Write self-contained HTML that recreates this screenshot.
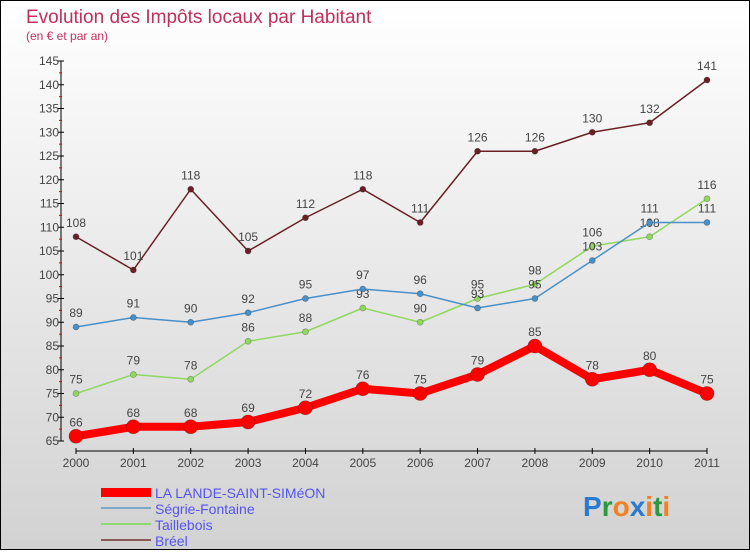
<!DOCTYPE html>
<html><head><meta charset="utf-8"><style>
body{margin:0}
#c{width:748px;height:548px;border:1px solid #000;background:linear-gradient(#fff,#d2d2d2);position:relative;font-family:"Liberation Sans",sans-serif}
text{font-family:"Liberation Sans",sans-serif}
</style></head><body>
<div id="c">
<svg id="s" width="748" height="548">
<text x="25" y="22" font-size="19" fill="#c0305a">Evolution des Impôts locaux par Habitant</text>
<text x="25" y="39" font-size="12" fill="#c0305a">(en € et par an)</text>
<g id="g"></g>
<g>
<rect x="100" y="487" width="50" height="9" fill="#f00"/>
<text x="154" y="497" font-size="14" fill="#5555ee">LA LANDE-SAINT-SIMéON</text>
<rect x="100" y="506" width="50" height="2" fill="#80a8c8"/>
<text x="154" y="513" font-size="14" fill="#5555ee">Ségrie-Fontaine</text>
<rect x="100" y="522" width="50" height="2" fill="#90d870"/>
<text x="154" y="529" font-size="14" fill="#5555ee">Taillebois</text>
<rect x="100" y="538" width="50" height="2" fill="#8a5a5a"/>
<text x="154" y="545" font-size="14" fill="#5555ee">Bréel</text>
</g>
<g font-size="28" font-weight="bold">
<text x="582" y="515"><tspan fill="#2a7ad0">P</tspan><tspan fill="#2a9a40">r</tspan><tspan fill="#f08020">o</tspan><tspan fill="#2a7ad0">x</tspan><tspan fill="#f08020">i</tspan><tspan fill="#2a9a40">t</tspan><tspan fill="#f08020">i</tspan></text>
</g>
</svg></div>
<script>
const years=["2000","2001","2002","2003","2004","2005","2006","2007","2008","2009","2010","2011"];
const yTicks=[65,70,75,80,85,90,95,100,105,110,115,120,125,130,135,140,145];
const lande=[66,68,68,69,72,76,75,79,85,78,80,75];
const segrie=[89,91,90,92,95,97,96,93,95,103,111,111];
const taillebois=[75,79,78,86,88,93,90,95,98,106,108,116];
const breel=[108,101,118,105,112,118,111,126,126,130,132,141];
const NS="http://www.w3.org/2000/svg",g=document.getElementById('g');
const X=i=>75+i*(631/11), Y=v=>440-(v-65)*4.75;
function mk(t,a,p){const e=document.createElementNS(NS,t);for(const k in a)e.setAttribute(k,a[k]);(p||g).appendChild(e);return e;}
let ax=mk('line',{x1:60,y1:Y(145),x2:60,y2:440,stroke:'#000'});


let xa=mk('line',{x1:75,y1:450,x2:706,y2:450,stroke:'#000'});


yTicks.forEach((v,i)=>{
 mk('line',{x1:57,x2:63,y1:Y(v),y2:Y(v),stroke:'#000'});
 if(i<yTicks.length-1)mk('line',{x1:58,x2:61,y1:Y(v+2.5),y2:Y(v+2.5),stroke:'#d00'});
 const t=mk('text',{x:58,y:Y(v)+4,'font-size':12,fill:'#444','text-anchor':'end'});t.textContent=v;
 
 
});
years.forEach((y,i)=>{
 mk('line',{x1:X(i),x2:X(i),y1:447,y2:453,stroke:'#000'});
 const t=mk('text',{x:X(i),y:466,'font-size':12,fill:'#444','text-anchor':'middle'});t.textContent=y;
 
 
});
function series(d,col,w,r,name){
 const p=mk('polyline',{points:d.map((v,i)=>X(i)+','+Y(v)).join(' '),fill:'none',stroke:col,'stroke-width':w,'stroke-linejoin':'round'});
 
 
 d.forEach((v,i)=>{
  const c=mk('circle',{cx:X(i),cy:Y(v),r:r,fill:col,stroke:'rgba(0,0,0,0.3)','stroke-width':0.7});
  
  
  const t=mk('text',{x:X(i),y:Y(v)-10,'font-size':12,fill:'#444','text-anchor':'middle'});t.textContent=v;
  
  
 });
}
series(breel,'#6b1f26',1.5,3,'breel');
series(taillebois,'#90d860',1.5,3,'taillebois');
series(segrie,'#4a90c8',1.5,3,'segrie');
series(lande,'#f00',8,7,'lande');
</script>
</body></html>
